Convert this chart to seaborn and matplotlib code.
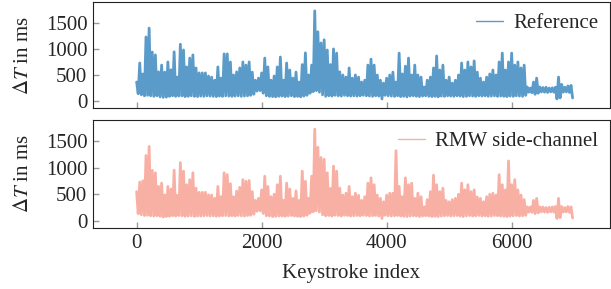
import numpy as np
import pandas as pd
import matplotlib
matplotlib.use("Agg")
import matplotlib.pyplot as plt
import seaborn as sns

# per-bin peak (hi) and trough (lo) of dT in ms, one bin = 50 keystrokes
ref_hi = [365, 730, 520, 1230, 1400, 940, 885, 560, 690, 555,
          750, 600, 945, 460, 1090, 980, 655, 825, 885, 635,
          540, 540, 540, 480, 460, 400, 655, 440, 905, 905,
          750, 500, 560, 635, 750, 690, 750, 555, 400, 440,
          540, 825, 655, 400, 480, 655, 845, 400, 730, 595,
          440, 555, 365, 700, 925, 500, 690, 1730, 1330, 1115,
          1175, 980, 700, 1000, 920, 560, 500, 460, 635, 440,
          500, 460, 365, 400, 690, 805, 690, 500, 400, 345,
          440, 500, 555, 365, 920, 520, 670, 825, 500, 690,
          500, 460, 270, 400, 460, 635, 865, 595, 690, 400,
          460, 345, 400, 500, 730, 595, 750, 655, 770, 555,
          440, 365, 460, 520, 595, 500, 750, 920, 595, 750,
          920, 690, 750, 635, 690, 270, 250, 365, 440, 270,
          260, 265, 250, 255, 265, 460, 320, 265, 290, 300]
ref_lo = [140, 120, 100, 110, 100, 90, 100, 80, 70, 75,
          90, 100, 90, 95, 100, 85, 90, 100, 90, 85,
          95, 90, 100, 95, 90, 85, 95, 90, 100, 95,
          90, 95, 100, 90, 95, 100, 110, 130, 190, 200,
          150, 100, 90, 85, 80, 90, 95, 85, 90, 100,
          85, 90, 80, 95, 110, 150, 180, 200, 170, 120,
          90, 100, 95, 110, 100, 95, 110, 100, 95, 100,
          95, 100, 110, 100, 95, 90, 100, 95, 40, 110,
          100, 95, 90, 100, 85, 90, 80, 95, 100, 90,
          85, 95, 100, 90, 85, 90, 80, 95, 90, 100,
          95, 90, 100, 95, 85, 90, 100, 95, 90, 100,
          95, 100, 90, 95, 100, 90, 95, 90, 85, 95,
          90, 100, 95, 90, 110, 170, 160, 130, 150, 175,
          170, 165, 175, 170, 40, 60, 170, 175, 165, 60]

rmw_hi = [550, 730, 755, 1230, 1400, 950, 905, 650, 710, 487,
          648, 600, 955, 480, 1096, 936, 680, 775, 905, 615,
          538, 538, 538, 490, 487, 423, 648, 455, 905, 870,
          700, 455, 560, 630, 775, 745, 760, 550, 385, 423,
          583, 840, 648, 455, 500, 680, 840, 385, 710, 600,
          423, 565, 385, 936, 745, 423, 840, 1725, 1385, 1192,
          1160, 905, 610, 1030, 936, 615, 485, 520, 648, 455,
          520, 480, 385, 455, 710, 810, 680, 485, 423, 359,
          485, 520, 520, 1320, 648, 455, 810, 680, 710, 423,
          520, 455, 263, 400, 550, 860, 680, 550, 615, 385,
          359, 400, 423, 500, 710, 583, 680, 550, 583, 450,
          423, 359, 455, 500, 520, 485, 870, 680, 583, 1128,
          680, 775, 583, 485, 400, 263, 263, 385, 423, 263,
          260, 250, 255, 263, 270, 423, 270, 250, 270, 263]
rmw_lo = [135, 115, 100, 105, 95, 90, 95, 85, 70, 80,
          85, 95, 90, 100, 95, 85, 90, 95, 85, 90,
          90, 95, 100, 90, 95, 85, 90, 95, 100, 90,
          95, 90, 100, 95, 90, 100, 105, 125, 180, 190,
          140, 95, 90, 80, 85, 90, 90, 85, 95, 100,
          90, 85, 80, 90, 105, 145, 170, 190, 165, 115,
          95, 100, 90, 105, 100, 90, 105, 100, 90, 95,
          100, 95, 105, 100, 90, 95, 100, 90, 45, 105,
          95, 90, 95, 100, 90, 85, 80, 90, 95, 90,
          80, 90, 95, 90, 80, 85, 80, 90, 95, 100,
          90, 95, 100, 90, 80, 95, 100, 90, 95, 100,
          90, 95, 85, 90, 100, 95, 90, 85, 80, 90,
          95, 100, 90, 95, 105, 165, 160, 135, 150, 170,
          165, 160, 170, 165, 45, 60, 165, 170, 160, 55]

bin_size = 50
ref_color = "#5a9bc9"
rmw_color = "#f9b0a4"
fs = 15


def zigzag(hi, lo):
    idx = np.arange(len(hi)) * bin_size
    x = np.column_stack([idx, idx + bin_size / 2]).ravel()
    y = np.column_stack([hi, lo]).ravel()
    return pd.DataFrame({"key": x, "dt": y})


sns.set_theme(style="ticks")
plt.rcParams["font.family"] = ["Liberation Serif", "DejaVu Serif"]
plt.rcParams["mathtext.fontset"] = "stix"
plt.rcParams["font.size"] = fs

fig = plt.figure(figsize=(6.11, 2.89), dpi=100)
ax1 = fig.add_axes([0.152, 0.626, 0.846, 0.367])
ax2 = fig.add_axes([0.152, 0.211, 0.846, 0.374])

sns.lineplot(data=zigzag(ref_hi, ref_lo), x="key", y="dt", ax=ax1, color=ref_color,
             linewidth=2.0, estimator=None, label="Reference")
sns.lineplot(data=zigzag(rmw_hi, rmw_lo), x="key", y="dt", ax=ax2, color=rmw_color,
             linewidth=2.0, estimator=None, label="RMW side-channel")

for ax in (ax1, ax2):
    ax.set_xlim(-700, 7570)
    ax.set_ylim(-135, 1900)
    ax.set_xticks([0, 2000, 4000, 6000])
    ax.set_yticks([0, 500, 1000, 1500])
    ax.tick_params(direction="in", length=4, width=1.0, color="#9a9a9a",
                   labelsize=fs, pad=4)
    for s in ax.spines.values():
        s.set_color("#222222")
        s.set_linewidth(0.8)
    ax.set_ylabel(r"$\Delta T$ in ms", fontsize=fs, labelpad=9)
    leg = ax.legend(loc="upper right", frameon=False, fontsize=fs,
                    handlelength=1.3, handletextpad=0.5, borderaxespad=0.15)
    for h in leg.get_lines():
        h.set_linewidth(1.0)

ax1.set_xlabel("")
ax1.tick_params(labelbottom=False)
ax2.set_xlabel("Keystroke index", fontsize=fs, labelpad=8)

fig.savefig("out.png", dpi=100)
